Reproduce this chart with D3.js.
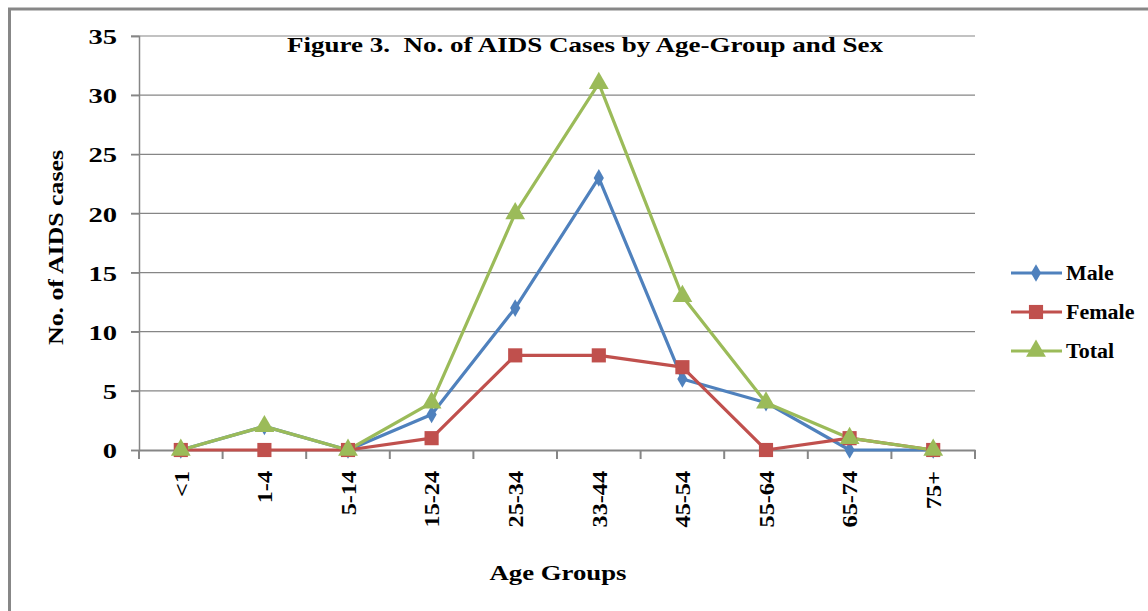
<!DOCTYPE html>
<html><head><meta charset="utf-8">
<script src="https://cdn.jsdelivr.net/npm/d3@7"></script>
<style>body{margin:0;background:#fff;}svg{display:block;}text{font-family:"Liberation Serif","Times New Roman",serif;font-weight:bold;fill:#000;white-space:pre;}</style>
</head><body>
<svg id="c" width="1148" height="611"></svg>
<script>
const categories = ["<1","1-4","5-14","15-24","25-34","33-44","45-54","55-64","65-74","75+"];
const male   = [0,2,0,3,12,23,6,4,0,0];
const female = [0,0,0,1,8,8,7,0,1,0];
const total  = [0,2,0,4,20,31,13,4,1,0];
const yTicks = [0,5,10,15,20,25,30,35];
const seriesNames = ["Male","Female","Total"];
const seriesColors = ["#4F81BD","#C0504D","#9BBB59"];
const title = "Figure 3.  No. of AIDS Cases by Age-Group and Sex";

const svg = d3.select("#c");
function stretch(sel, f){
  sel.each(function(){
    const w = this.getComputedTextLength();
    d3.select(this).attr("textLength", w*f).attr("lengthAdjust","spacingAndGlyphs");
  });
}
// outer border (top and left visible)
svg.append("rect").attr("x",9.5).attr("y",9).attr("width",1200).attr("height",700)
  .attr("fill","none").attr("stroke","#878787").attr("stroke-width",3);

const L=139, R=975, T=36, B=450;
const x = d3.scaleBand().domain(categories).range([L,R]);
const y = d3.scaleLinear().domain([0,35]).range([B,T]);

// gridlines
svg.append("g").selectAll("line").data(yTicks.filter(d=>d>0)).join("line")
  .attr("x1",L-8).attr("x2",R).attr("y1",d=>y(d)).attr("y2",d=>y(d))
  .attr("stroke","#868686").attr("stroke-width",1.2);

// y axis
const yAxis = svg.append("g").attr("transform",`translate(${L},0)`)
  .call(d3.axisLeft(y).tickValues(yTicks).tickSize(8).tickPadding(14));
yAxis.select(".domain").attr("stroke","#868686").attr("stroke-width",1.5);
yAxis.selectAll(".tick line").attr("stroke","#868686").attr("stroke-width",1.5);
yAxis.selectAll("text").style("font-size","22px").style("font-family","Liberation Serif").style("font-weight","bold").attr("fill","#000").attr("dy","0.35em").attr("x",-22);
stretch(yAxis.selectAll("text"), 1.3);

// x axis
const xAxis = svg.append("g").attr("transform",`translate(0,${B})`)
  .call(d3.axisBottom(x).tickSize(0).tickPadding(0));
xAxis.select(".domain").attr("stroke","#868686").attr("stroke-width",2);
xAxis.selectAll(".tick text").attr("transform","rotate(-90)").attr("text-anchor","end")
  .attr("x",-21).attr("y",0).attr("dy","0.35em")
  .style("font-size","22px").style("font-family","Liberation Serif").style("font-weight","bold").attr("fill","#000");
stretch(xAxis.selectAll(".tick text"), 1.1);
// category boundary ticks
const bounds = categories.map(c=>x(c)).concat([R]);
svg.append("g").selectAll("line").data(bounds).join("line")
  .attr("x1",d=>d).attr("x2",d=>d).attr("y1",B).attr("y2",B+9)
  .attr("stroke","#868686").attr("stroke-width",2);

const cx = c => x(c)+x.bandwidth()/2;
const allSeries = [male,female,total];
const line = d3.line().x((d,i)=>cx(categories[i])).y(d=>y(d));
const symbols = [d3.symbolDiamond, d3.symbolSquare, d3.symbolTriangle];
const symSizes = [90, 200, 170];

allSeries.forEach((s,k)=>{
  svg.append("path").datum(s).attr("d",line).attr("fill","none")
    .attr("stroke",seriesColors[k]).attr("stroke-width",3.2).attr("stroke-linejoin","round");
});
allSeries.forEach((s,k)=>{
  svg.append("g").selectAll("path").data(s).join("path")
    .attr("d",d3.symbol().type(symbols[k]).size(symSizes[k]))
    .attr("transform",(d,i)=>`translate(${cx(categories[i])},${y(d)})`)
    .attr("fill",seriesColors[k]);
});

// title
svg.append("text").attr("x",287).attr("y",52).attr("text-anchor","start")
  .style("font-size","22px").attr("textLength",596).attr("lengthAdjust","spacingAndGlyphs").text(title);
// axis titles
svg.append("text").attr("transform","translate(63,247.5) rotate(-90)").attr("text-anchor","middle")
  .style("font-size","22px").attr("textLength",195).attr("lengthAdjust","spacingAndGlyphs").text("No. of AIDS cases");
svg.append("text").attr("x",558).attr("y",580).attr("text-anchor","middle")
  .style("font-size","22px").attr("textLength",137).attr("lengthAdjust","spacingAndGlyphs").text("Age Groups");

// legend
const lg = svg.append("g");
seriesNames.forEach((n,k)=>{
  const yy = 273 + k*39;
  lg.append("line").attr("x1",1011).attr("x2",1062).attr("y1",yy).attr("y2",yy)
    .attr("stroke",seriesColors[k]).attr("stroke-width",3.2);
  lg.append("path").attr("d",d3.symbol().type(symbols[k]).size(symSizes[k]))
    .attr("transform",`translate(1036,${yy})`).attr("fill",seriesColors[k]);
  lg.append("text").attr("x",1066).attr("y",yy).attr("dy","0.35em")
    .style("font-size","20px").text(n);
});
stretch(lg.selectAll("text"), 1.1);
</script>
</body></html>
